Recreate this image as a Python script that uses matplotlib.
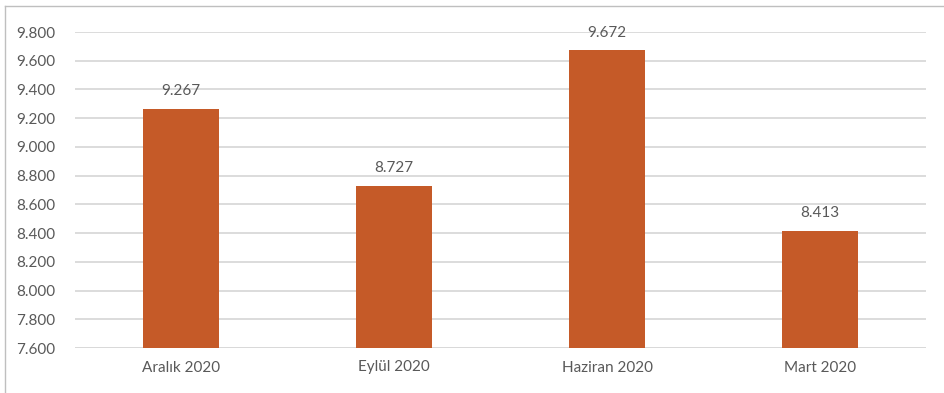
import matplotlib.pyplot as plt
from matplotlib.lines import Line2D

months = ["Aralık 2020", "Eylül 2020", "Haziran 2020", "Mart 2020"]
values = [9267, 8727, 9672, 8413]
y_ticks = [7600, 7800, 8000, 8200, 8400, 8600, 8800, 9000, 9200, 9400, 9600, 9800]

bar_color = "#C55A28"
text_color = "#595959"
grid_color = "#D9D9D9"


def fmt(v):
    # thousands separator as a dot
    return f"{v:,}".replace(",", ".")


plt.rcParams["font.family"] = ["Lato", "DejaVu Sans"]

fig = plt.figure(figsize=(9.45, 3.93), dpi=100)
ax = fig.add_axes([74.5 / 945, 1 - 348 / 393, 852 / 945, 316 / 393])

x = range(len(months))
ax.bar(x, [v - y_ticks[0] for v in values], bottom=y_ticks[0], width=0.357,
       color=bar_color, zorder=3)
for i, v in zip(x, values):
    ax.text(i, v + 75, fmt(v), ha="center", va="bottom", fontsize=11,
            color=text_color, zorder=4)

ax.set_xlim(-0.5, len(months) - 0.5)
ax.set_ylim(y_ticks[0], y_ticks[-1])
ax.set_yticks(y_ticks)
ax.set_yticklabels([fmt(t) for t in y_ticks])
ax.set_xticks(list(x))
ax.set_xticklabels(months)
ax.tick_params(axis="both", length=0, labelsize=11, labelcolor=text_color)
ax.tick_params(axis="y", pad=14)
ax.tick_params(axis="x", pad=9)
ax.yaxis.grid(True, color=grid_color, linewidth=1.3, zorder=0)
ax.set_axisbelow(True)
for s in ax.spines.values():
    s.set_visible(False)
ax.axhline(y_ticks[0], color=grid_color, linewidth=1.3, zorder=1)

# outer frame (left and top edges)
fig.add_artist(Line2D([4.5 / 945, 4.5 / 945], [0, 1 - 5.5 / 393],
                      transform=fig.transFigure, color="#BFBFBF", linewidth=1))
fig.add_artist(Line2D([4.5 / 945, 1], [1 - 5.5 / 393, 1 - 5.5 / 393],
                      transform=fig.transFigure, color="#BFBFBF", linewidth=1))

fig.savefig("out.png", dpi=100)
